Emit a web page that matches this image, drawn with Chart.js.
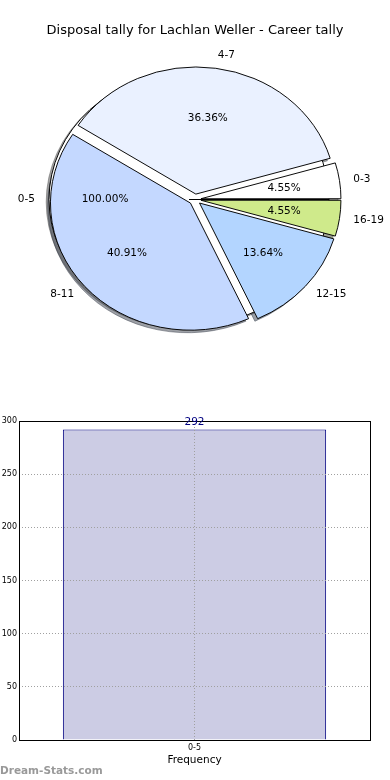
<!DOCTYPE html>
<html><head><meta charset="utf-8">
<script src="https://cdn.jsdelivr.net/npm/chart.js@4.4.0/dist/chart.umd.min.js"></script>
<style>
html,body{margin:0;padding:0;background:#fff;width:390px;height:780px;overflow:hidden;}
#wrap{position:relative;width:390px;height:780px;}
canvas{position:absolute;left:0;}
#title{position:absolute;left:0;top:21px;width:390px;text-align:center;font:13px "DejaVu Sans";color:#000;line-height:18px;white-space:nowrap;}
#wm{position:absolute;left:0;top:764px;font:bold 10.5px "DejaVu Sans";color:#999;line-height:12px;white-space:nowrap;}
</style></head><body>
<div id="wrap">
<canvas id="helper" width="390" height="390" style="top:0;width:390px;height:390px;visibility:hidden"></canvas>
<canvas id="pie" width="390" height="390" style="top:0;width:390px;height:390px"></canvas>
<canvas id="bar" width="390" height="380" style="top:400px;width:390px;height:380px"></canvas>
<div id="title">Disposal tally for Lachlan Weller - Career tally</div>
<div id="wm">Dream-Stats.com</div>
</div>
<script>
// ---- data ----
const pieCategories = ['0-3', '4-7', '8-11', '12-15', '16-19'];
const pieCounts = [1, 8, 9, 3, 1];
const pieColors = ['#ffffff', '#eaf1ff', '#c4d8ff', '#b3d5ff', '#cfea8b'];
const outerCategories = ['0-5'];
const outerCounts = [292];
const outerColors = ['#ffffff'];
const barCategories = ['0-5'];
const barValues = [292];
const yTickStep = 50;
const yMax = 300;

// ---- geometry / style ----
const RADIUS = 140, SQUASH = 0.908, EXPLODE = 6, SH_DX = -2.8, SH_DY = 2.8;
const LABEL_FONT = '10.5px "DejaVu Sans"';
Chart.defaults.font.family = '"DejaVu Sans"';

// pie slices are laid out clockwise from east, so reverse (matplotlib goes counter-clockwise)
const mainLabels = pieCategories.slice().reverse();
const mainCounts = pieCounts.slice().reverse();
const mainColors = pieColors.slice().reverse();

function pieOptions() {
  return {
    responsive: false, animation: false, events: [],
    rotation: 90, radius: RADIUS,
    layout: { padding: { top: 9, bottom: 0, left: 0, right: 0 } },
    plugins: { legend: { display: false }, tooltip: { enabled: false }, title: { display: false } }
  };
}

const helperChart = new Chart(document.getElementById('helper'), {
  type: 'pie',
  data: { labels: outerCategories, datasets: [{ data: outerCounts, backgroundColor: outerColors, borderColor: '#000', borderWidth: 1, rotation: 90, radius: RADIUS, hoverOffset: 0 }] },
  options: pieOptions()
});

function shadowOf(hex) {
  const h = hex.replace('#', '');
  const r = parseInt(h.substr(0, 2), 16), g = parseInt(h.substr(2, 2), 16), b = parseInt(h.substr(4, 2), 16);
  return 'rgba(' + Math.round(r * 0.3) + ',' + Math.round(g * 0.3) + ',' + Math.round(b * 0.3) + ',0.5)';
}
function withSquash(ctx, cx, cy, fn) {
  ctx.save(); ctx.translate(cx, cy); ctx.scale(1, SQUASH); ctx.translate(-cx, -cy); fn(); ctx.restore();
}
function explodeVec(el) {
  const m = (el.startAngle + el.endAngle) / 2;
  return [Math.cos(m) * EXPLODE, Math.sin(m) * EXPLODE];
}
function drawArcAt(ctx, el, dx, dy, override) {
  let target = el;
  if (override) {
    target = Object.assign(Object.create(Object.getPrototypeOf(el)), el);
    target.options = Object.assign({}, el.options, override);
  }
  ctx.save(); ctx.translate(dx, dy); target.draw(ctx); ctx.restore();
}

const piePlugin = {
  id: 'piePlugin',
  beforeDatasetsDraw(chart) {
    const ctx = chart.ctx;
    const main = chart.getDatasetMeta(0).data;
    const outer = helperChart.getDatasetMeta(0).data;
    const cx = main[0].x, cy = main[0].y;
    withSquash(ctx, cx, cy, () => {
      outer.concat(main).forEach(el => {
        const [ex, ey] = explodeVec(el);
        const sc = shadowOf(el.options.backgroundColor);
        drawArcAt(ctx, el, ex + SH_DX, ey + SH_DY, { backgroundColor: sc, borderColor: sc });
      });
      outer.forEach(el => { const [ex, ey] = explodeVec(el); drawArcAt(ctx, el, ex, ey); });
    });
  },
  beforeDatasetDraw(chart, args) {
    const ctx = chart.ctx;
    const els = args.meta.data;
    const cx = els[0].x, cy = els[0].y;
    withSquash(ctx, cx, cy, () => {
      els.forEach(el => { const [ex, ey] = explodeVec(el); drawArcAt(ctx, el, ex, ey); });
    });
    return false;
  },
  afterDraw(chart) {
    const ctx = chart.ctx;
    const groups = [
      { els: helperChart.getDatasetMeta(0).data, labels: outerCategories, counts: outerCounts },
      { els: chart.getDatasetMeta(0).data, labels: mainLabels, counts: mainCounts }
    ];
    ctx.save();
    ctx.font = LABEL_FONT; ctx.fillStyle = '#000'; ctx.textBaseline = 'middle';
    groups.forEach(g => {
      const total = g.counts.reduce((a, b) => a + b, 0);
      g.els.forEach((el, i) => {
        const m = (el.startAngle + el.endAngle) / 2;
        const c = Math.cos(m), s = Math.sin(m);
        const d1 = 1.1 * el.outerRadius + EXPLODE;
        ctx.textAlign = c > 0 ? 'left' : 'right';
        ctx.fillText(g.labels[i], el.x + c * d1, el.y + SQUASH * s * d1);
        const d2 = 0.6 * el.outerRadius + EXPLODE;
        ctx.textAlign = 'center';
        ctx.fillText((g.counts[i] / total * 100).toFixed(2) + '%', el.x + c * d2, el.y + SQUASH * s * d2);
      });
    });
    ctx.restore();
  }
};

new Chart(document.getElementById('pie'), {
  type: 'pie',
  data: { labels: mainLabels, datasets: [{ data: mainCounts, backgroundColor: mainColors, borderColor: '#000', borderWidth: 1, rotation: 90, radius: RADIUS, hoverOffset: 0 }] },
  options: pieOptions(),
  plugins: [piePlugin]
});

// ---- bar chart ----
const barPlugin = {
  id: 'barPlugin',
  afterDraw(chart) {
    const ctx = chart.ctx, a = chart.chartArea;
    ctx.save();
    ctx.strokeStyle = '#000'; ctx.lineWidth = 1;
    ctx.strokeRect(Math.round(a.left) + 0.5, Math.round(a.top) + 0.5, Math.round(a.right - a.left), Math.round(a.bottom - a.top));
    ctx.font = LABEL_FONT; ctx.fillStyle = '#000080'; ctx.textAlign = 'center'; ctx.textBaseline = 'bottom';
    chart.getDatasetMeta(0).data.forEach((el, i) => {
      ctx.fillText(String(barValues[i]), el.x, el.y - 2);
    });
    ctx.restore();
  }
};

new Chart(document.getElementById('bar'), {
  type: 'bar',
  data: { labels: barCategories, datasets: [{ data: barValues, backgroundColor: '#ccccE4', borderColor: '#000080', borderWidth: 1, barPercentage: 0.75, categoryPercentage: 1 }] },
  options: {
    responsive: false, animation: false, events: [],
    layout: { padding: { top: 21, right: 20, left: 0, bottom: 0 } },
    plugins: { legend: { display: false }, tooltip: { enabled: false } },
    scales: {
      x: {
        grid: { z: 1, offset: false, color: '#a0a0a0', lineWidth: 1, drawTicks: false },
        border: { display: false, dash: [1, 2] },
        ticks: { font: { size: 8 }, color: '#000', padding: 3 },
        title: { display: true, text: 'Frequency', font: { size: 10.5 }, color: '#000', padding: { top: 0, bottom: 13 } },
        afterFit(s) { s.height = 40; }
      },
      y: {
        min: 0, max: yMax,
        grid: { z: 1, color: '#a0a0a0', lineWidth: 1, drawTicks: false },
        border: { display: false, dash: [1, 2] },
        ticks: { stepSize: yTickStep, font: { size: 8 }, color: '#000', padding: 2 },
        afterFit(s) { s.width = 19; }
      }
    }
  },
  plugins: [barPlugin]
});
</script>
</body></html>
